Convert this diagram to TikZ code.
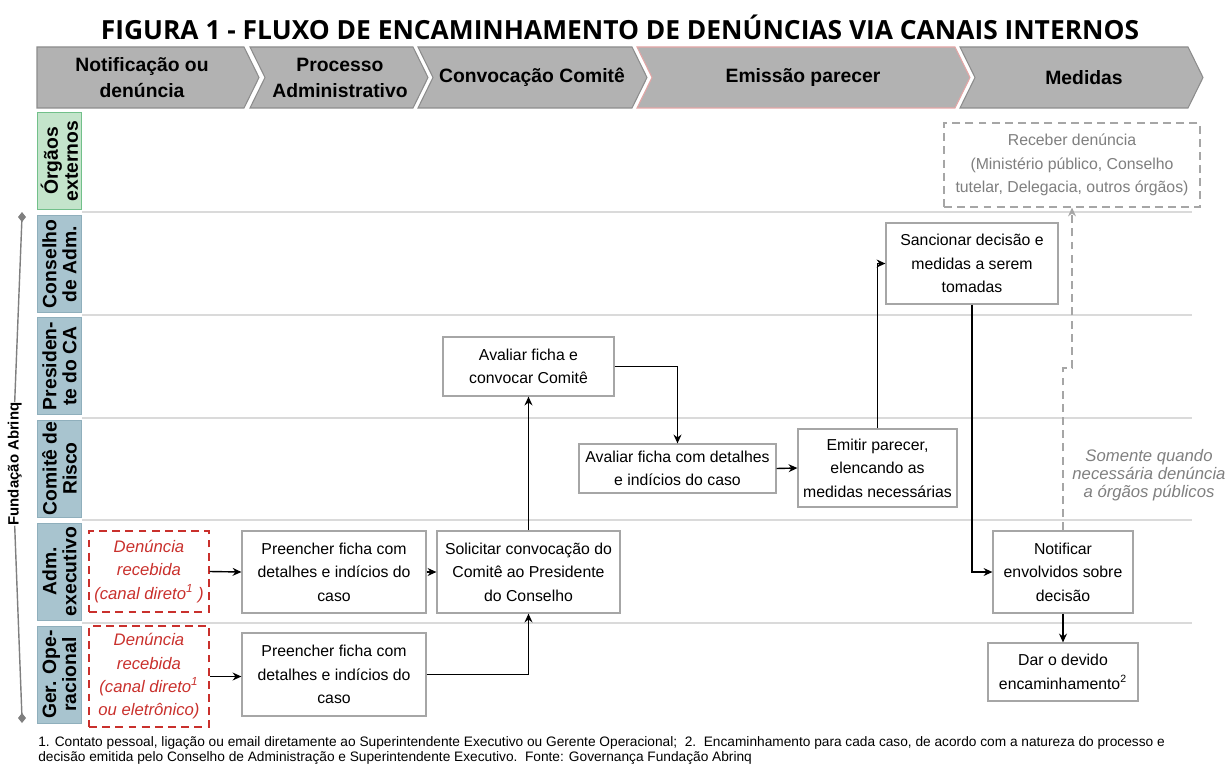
\documentclass[tikz,border=0pt]{standalone}
\usepackage{fontspec}
\usepackage{graphicx}
\setmainfont{Liberation Sans}
\newfontfamily\titlefont{Open Sans}
\usetikzlibrary{arrows.meta,calc}

\definecolor{chevgray}{HTML}{B2B2B2}
\definecolor{chevline}{HTML}{8C8C8C}
\definecolor{chevpink}{HTML}{E3A6A6}
\definecolor{lanegreen}{HTML}{C4E4CB}
\definecolor{lanegreenline}{HTML}{72C08A}
\definecolor{laneblue}{HTML}{A8C4CF}
\definecolor{laneblueline}{HTML}{8FAFBC}
\definecolor{boxline}{HTML}{A6A6A6}
\definecolor{denred}{HTML}{C9302C}
\definecolor{sepgray}{HTML}{DADADA}
\definecolor{notegray}{HTML}{7F7F7F}

\begin{document}
\begin{tikzpicture}[x=0.02cm,y=-0.02cm,>={Stealth[length=5pt,width=4.5pt]},
  chevtext/.style={font=\fontsize{11}{14.7}\selectfont\bfseries, align=center},
  lanelab/.style={draw=laneblueline, fill=laneblue, rotate=90, align=center,
    minimum width=1.94cm, minimum height=0.88cm, inner sep=0pt,
    font=\fontsize{11}{11.4}\selectfont\bfseries},
  box/.style={draw=boxline, fill=white, line width=0.7pt, align=center, inner sep=1pt,
    font=\fontsize{9}{13.3}\selectfont},
  denbox/.style={draw=denred, line width=0.8pt, dash pattern=on 4.5pt off 3pt, align=center,
    inner sep=1pt, text=denred, font=\fontsize{9.5}{13.3}\selectfont\itshape},
  flow/.style={->, line width=0.8pt},
  sepline/.style={draw=sepgray, line width=1pt}]
  \useasboundingbox (0,0) rectangle (1227,767);

  % Title
  \node[font=\titlefont\fontsize{15}{16}\selectfont\bfseries] (title) at (620,27)
    {FIGURA 1 - FLUXO DE ENCAMINHAMENTO DE DENÚNCIAS VIA CANAIS INTERNOS};

  % Phase chevrons
  \filldraw[fill=chevgray, draw=chevline, line width=0.6pt]
    (37,47) -- (244,47) -- (259,77.5) -- (244,108) -- (37,108) -- cycle;
  \filldraw[fill=chevgray, draw=chevline, line width=0.6pt]
    (250,47) -- (413,47) -- (428,77.5) -- (413,108) -- (250,108) -- (265,77.5) -- cycle;
  \filldraw[fill=chevgray, draw=chevline, line width=0.6pt]
    (418,47) -- (632,47) -- (647,77.5) -- (632,108) -- (418,108) -- (433,77.5) -- cycle;
  \filldraw[fill=chevgray, draw=chevpink, line width=0.6pt]
    (637,47) -- (955,47) -- (970,77.5) -- (955,108) -- (637,108) -- (652,77.5) -- cycle;
  \filldraw[fill=chevgray, draw=chevline, line width=0.6pt]
    (960,47) -- (1188,47) -- (1203,77.5) -- (1188,108) -- (960,108) -- (975,77.5) -- cycle;
  \node[chevtext] (ph1) at (142,78) {Notificação ou\\denúncia};
  \node[chevtext] (ph2) at (340,78) {Processo\\Administrativo};
  \node[chevtext] (ph3) at (532,77.5) {Convocação Comitê};
  \node[chevtext] (ph4) at (803,77.5) {Emissão parecer};
  \node[chevtext] (ph5) at (1084,77.5) {Medidas};

  % Lanes
  \node[lanelab, draw=lanegreenline, fill=lanegreen] (l1) at (59.5,161) {Órgãos\\externos};
  \node[lanelab] (l2) at (59.5,264) {Conselho\\de Adm.};
  \node[lanelab] (l3) at (59.5,366) {Presiden-\\te do CA};
  \node[lanelab] (l4) at (59.5,468.5) {Comitê de\\Risco};
  \node[lanelab] (l5) at (59.5,571.5) {Adm.\\executivo};
  \node[lanelab] (l6) at (59.5,674.5) {Ger. Ope-\\racional};
  \foreach \y in {212,315,418,520,623}
    \draw[sepline] (82,\y) -- (1192,\y);

  % Fundação Abrinq bracket
  \node[rotate=90, font=\fontsize{8.5}{9}\selectfont\bfseries, inner sep=0pt, anchor=south]
    (fund) at (22,464) {Fundação Abrinq};
  \draw[draw=notegray, line width=0.8pt] (22,217) -- (fund.east);
  \draw[draw=notegray, line width=0.8pt] (fund.west) -- (22,718);
  \fill[notegray] (22,212) -- (26,217) -- (22,222) -- (18,217) -- cycle;
  \fill[notegray] (22,713) -- (26,718) -- (22,723) -- (18,718) -- cycle;

  % Activities
  \node[denbox, minimum width=2.4cm, minimum height=1.62cm] (den1) at (149,571.5)
    {Denúncia\\recebida\\(canal direto\textsuperscript{1} )};
  \node[denbox, minimum width=2.4cm, minimum height=2.02cm] (den2) at (149,676.5)
    {Denúncia\\recebida\\(canal direto\textsuperscript{1}\\ou eletrônico)};
  \node[box, minimum width=3.68cm, minimum height=1.64cm] (prea) at (334,572)
    {Preencher ficha com\\detalhes e indícios do\\caso};
  \node[box, minimum width=3.68cm, minimum height=1.66cm] (preb) at (334,674.5)
    {Preencher ficha com\\detalhes e indícios do\\caso};
  \node[box, minimum width=3.66cm, minimum height=1.64cm] (solic) at (528.5,572)
    {Solicitar convocação do\\Comitê ao Presidente\\do Conselho};
  \node[box, minimum width=3.42cm, minimum height=1.18cm] (avconv) at (528.5,366.5)
    {Avaliar ficha e\\convocar Comitê};
  \node[box, minimum width=3.94cm, minimum height=0.98cm] (avdet) at (677.5,468.5)
    {Avaliar ficha com detalhes\\e indícios do caso};
  \node[box, minimum width=3.18cm, minimum height=1.56cm] (emitir) at (877.5,468)
    {Emitir parecer,\\elencando as\\medidas necessárias};
  \node[box, minimum width=3.44cm, minimum height=1.62cm] (sanc) at (972,263.5)
    {Sancionar decisão e\\medidas a serem\\tomadas};
  \node[box, draw=boxline, dash pattern=on 4.5pt off 3pt, text=notegray,
    minimum width=5.12cm, minimum height=1.68cm] (receb) at (1072,165)
    {Receber denúncia\\(Ministério público, Conselho\\tutelar, Delegacia, outros órgãos)};
  \node[box, minimum width=2.8cm, minimum height=1.64cm] (notif) at (1063,572)
    {Notificar\\envolvidos sobre\\decisão};
  \node[box, minimum width=3.0cm, minimum height=1.16cm] (dar) at (1063,672)
    {Dar o devido\\encaminhamento\textsuperscript{2}};
  \node[align=center, text=notegray, font=\fontsize{9.5}{10.4}\selectfont\itshape] (somente)
    at (1149,475) {Somente quando\\necessária denúncia\\a órgãos públicos};

  % Connectors
  \draw[flow] (den1.east) -- (prea.west);
  \draw[flow] (den2.east) -- (den2.east -| preb.west);
  \draw[flow] (prea.east) -- (solic.west);
  \draw[flow] (preb.east) -| (solic.south);
  \draw[flow] (solic.north) -- (avconv.south);
  \draw[flow] (avconv.east) -| (avdet.north);
  \draw[flow] (avdet.east) -- (emitir.west);
  \draw[flow] (emitir.north) |- (sanc.west);
  \draw[flow] (sanc.south) |- (notif.west);
  \draw[flow] (notif.south) -- (dar.north);
  \coordinate (jog) at (1063,368);
  \draw[->, draw=boxline, line width=0.7pt, dash pattern=on 4.5pt off 3pt]
    (notif.north) -- (jog) -| (receb.south);

  % Footnote
  \node[anchor=north west, align=left, inner sep=0pt, font=\fontsize{7.8}{8.8}\selectfont] (note)
    at (38,736) {1. Contato pessoal, ligação ou email diretamente ao Superintendente Executivo ou Gerente Operacional;\ \ 2.\ \ Encaminhamento para cada caso, de acordo com a natureza do processo e\\
    decisão emitida pelo Conselho de Administração e Superintendente Executivo.\ \ Fonte: Governança Fundação Abrinq};
\end{tikzpicture}
\end{document}
